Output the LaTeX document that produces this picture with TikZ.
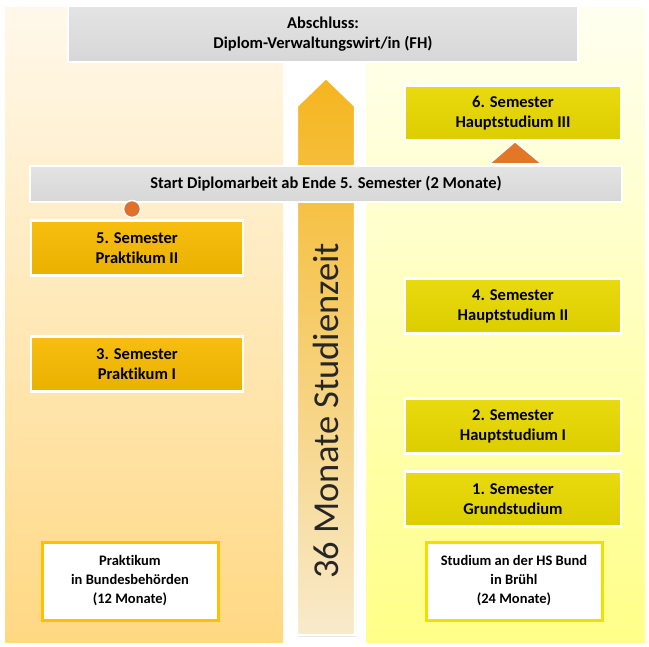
\documentclass[tikz,border=0pt]{standalone}
\usepackage{fontspec}
\setmainfont{Carlito}[Ligatures=NoCommon]
\usepackage{tikz}
\usetikzlibrary{positioning,shadows}
\definecolor{lbgtop}{HTML}{FFF8EA}
\definecolor{lbg}{HTML}{FFD883}
\definecolor{rbgtop}{HTML}{FFFFF0}
\definecolor{rbg}{HTML}{FFFF88}
\definecolor{abgr}{HTML}{E2E2E2}
\definecolor{prak}{HTML}{F6BA00}
\definecolor{haupt}{HTML}{E8D800}
\definecolor{dotc}{HTML}{E0702A}
\definecolor{zeit}{HTML}{F5B51E}
\definecolor{zeitlow}{HTML}{F8EACB}
\definecolor{prakline}{HTML}{FFC000}
\definecolor{hauptline}{HTML}{F0E000}
\tikzset{
  blk/.style={draw=white, line width=2.2pt, align=center, inner sep=3pt,
    font=\fontsize{16.5}{20}\selectfont\bfseries,
    top color=#1!94!white, bottom color=#1!95!black,
    drop shadow={opacity=0.3, shadow xshift=1pt, shadow yshift=-1.5pt}},
  blk/.default=abgr,
  sem/.style={blk=#1, minimum width=216, minimum height=55},
  note/.style={draw=#1, line width=3pt, fill=white, align=center,
    font=\fontsize{14.5}{19}\selectfont\bfseries, minimum width=176, minimum height=78},
}
\begin{document}
\begin{tikzpicture}[x=1pt, y=-1pt]
  \useasboundingbox (0,0) rectangle (649,647);
  \fill[top color=lbgtop, bottom color=lbg] (5,8) rectangle (283,642);
  \fill[top color=rbgtop, bottom color=rbg] (366,8) rectangle (645,642);
  \draw[draw=white, line width=2.2pt, top color=zeit, bottom color=zeitlow,
    drop shadow={opacity=0.3, shadow xshift=1pt, shadow yshift=-1.5pt}]
    (297,635) -- (297,106) -- (326,78) -- (355,106) -- (355,635) -- cycle;
  \node[rotate=90, font=\fontsize{36.5}{36}\selectfont, text=black!85] (dauer) at (326,411) {36 Monate Studienzeit};
  \node[blk, minimum width=510, minimum height=56] (ziel) at (323,34) {Abschluss:\\Diplom-Verwaltungswirt/in (FH)};
  \node[blk, minimum width=592, minimum height=36] (arbeit) at (326,184) {Start Diplomarbeit ab Ende 5. Semester (2 Monate)};
  \node[sem=haupt] (s6) at (513,113) {6. Semester\\Hauptstudium III};
  \node[sem=haupt] (s4) at (513,306) {4. Semester\\Hauptstudium II};
  \node[sem=haupt] (s2) at (513,426) {2. Semester\\Hauptstudium I};
  \node[sem=haupt] (s1) at (513,499) {1. Semester\\Grundstudium};
  \node[sem=prak, minimum width=212] (s5) at (137,248) {5. Semester\\Praktikum II};
  \node[sem=prak, minimum width=212] (s3) at (137,364) {3. Semester\\Praktikum I};
  \node[note=prakline] (prakt) at (130,581) {Praktikum\\in Bundesbehörden\\(12 Monate)};
  \node[note=hauptline] (hs) at (514,581) {Studium an der HS Bund\\in Brühl\\(24 Monate)};
  \node[circle, fill=dotc, draw=white, line width=1.5pt, minimum size=17, inner sep=0pt] (start) at (132,209) {};
  \filldraw[fill=dotc!95!yellow, draw=white, line width=1.5pt] (489,164) -- (s6.south -| 515,0) -- (542,164) -- cycle;
\end{tikzpicture}
\end{document}
